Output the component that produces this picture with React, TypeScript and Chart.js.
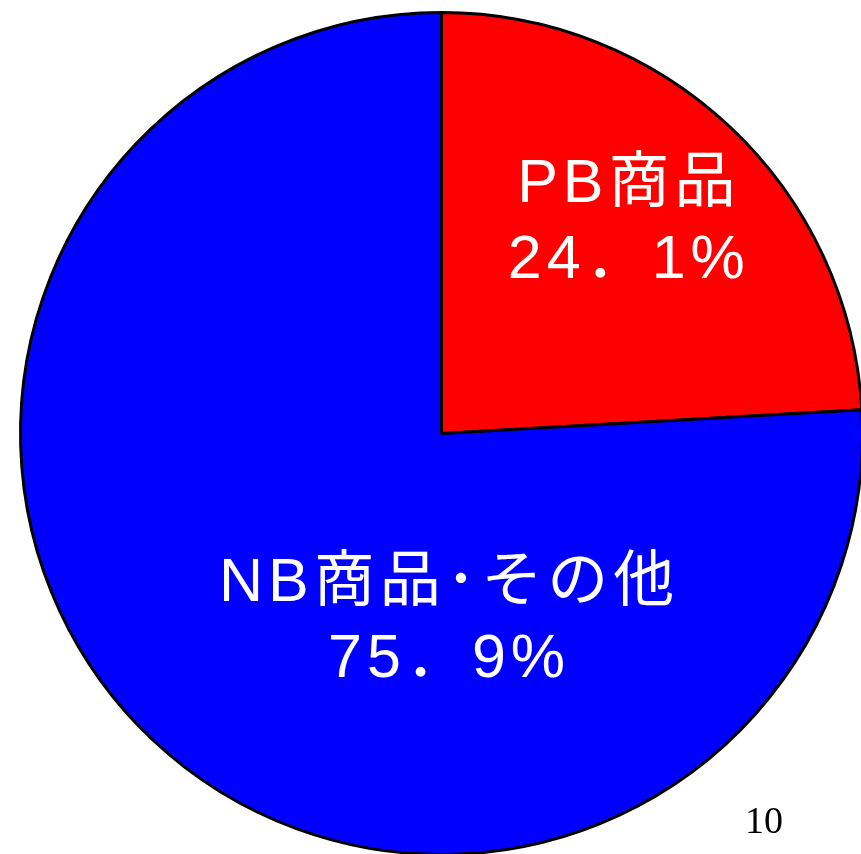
import React, { useEffect, useRef } from "react";
import { Chart, registerables } from "chart.js";

Chart.register(...registerables);

const categories = ["PB商品", "NB商品･その他"];
const values = [24.1, 75.9];
const valueLabels = ["24．1%", "75．9%"];
const colors = ["#FF0000", "#0000FF"];
const pageNumber = "10";

// label placement relative to pie center, as fraction of radius
const labelOffsets = [
  { fx: 0.445, fy: -0.5 },
  { fx: 0.018, fy: 0.448 },
];

const labelPlugin = {
  id: "sliceLabels",
  afterDatasetsDraw(chart: any) {
    const ctx = chart.ctx;
    const meta = chart.getDatasetMeta(0);
    ctx.save();
    ctx.fillStyle = "#FFFFFF";
    ctx.textAlign = "center";
    ctx.textBaseline = "middle";
    ctx.font = '61px "Liberation Sans", "Noto Sans CJK JP"';
    (ctx as any).letterSpacing = "5px";
    meta.data.forEach((arc: any, i: number) => {
      const { x, y, outerRadius } = arc.getProps(["x", "y", "outerRadius"], true);
      const cx = x + labelOffsets[i].fx * outerRadius;
      const cy = y + labelOffsets[i].fy * outerRadius;
      ctx.fillText(categories[i], cx, cy - 38);
      ctx.fillText(valueLabels[i], cx, cy + 38);
    });
    (ctx as any).letterSpacing = "0px";
    ctx.fillStyle = "#000000";
    ctx.textAlign = "left";
    ctx.textBaseline = "alphabetic";
    ctx.font = '38px "Liberation Serif"';
    ctx.fillText(pageNumber, 745, 833);
    ctx.restore();
  },
};

export default function App() {
  const ref = useRef<HTMLCanvasElement>(null);
  useEffect(() => {
    document.body.style.margin = "0";
    document.body.style.overflow = "hidden";
    const chart = new Chart(ref.current!, {
      type: "pie",
      data: {
        labels: categories,
        datasets: [
          {
            data: values,
            backgroundColor: colors,
            borderColor: "#000000",
            borderWidth: 3,
          },
        ],
      },
      options: {
        animation: false,
        responsive: false,
        layout: { padding: { left: 19, top: 11, right: 6, bottom: 14 } },
        plugins: {
          legend: { display: false },
          tooltip: { enabled: false },
        },
      },
      plugins: [labelPlugin],
    });
    return () => chart.destroy();
  }, []);
  return (
    <div style={{ width: 870, height: 870, background: "#fff" }}>
      <canvas ref={ref} width={870} height={870} />
    </div>
  );
}
